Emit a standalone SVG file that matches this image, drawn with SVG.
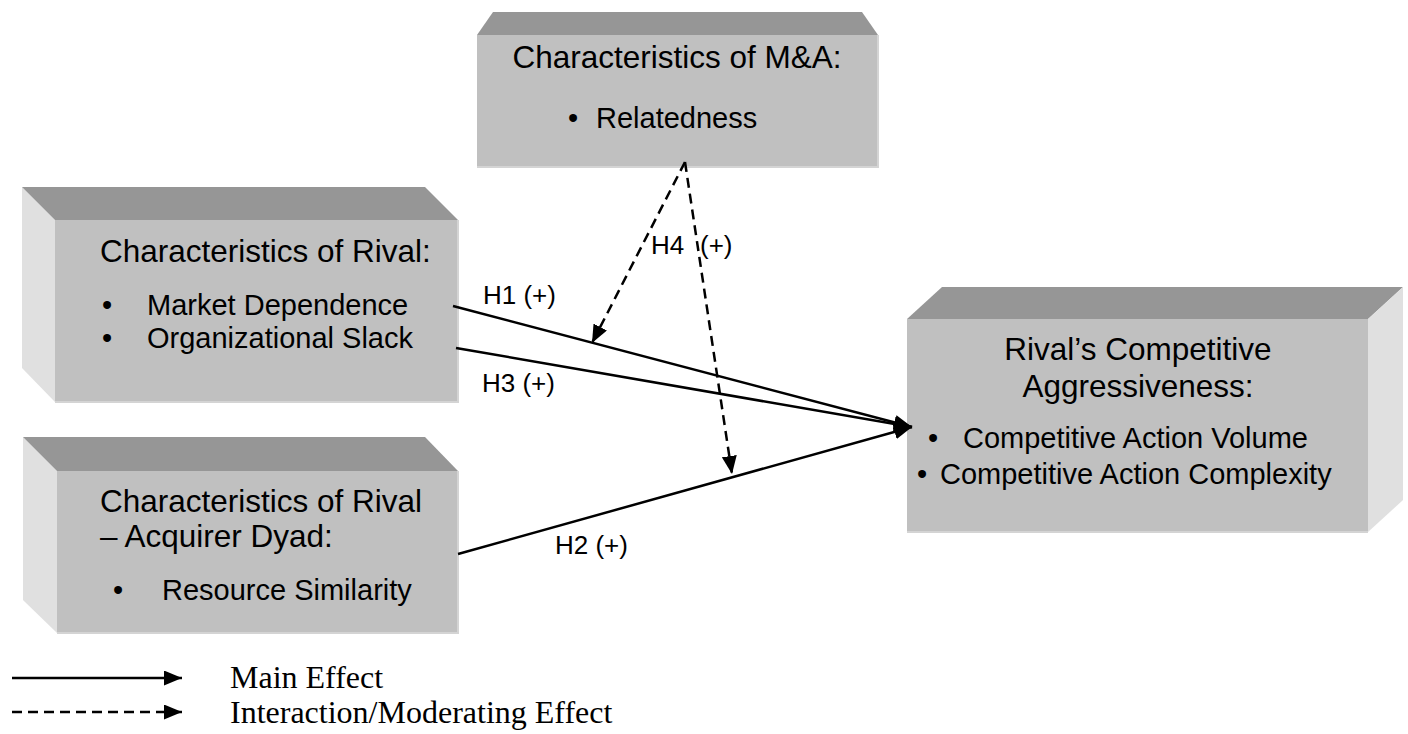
<svg xmlns="http://www.w3.org/2000/svg" width="1408" height="734" viewBox="0 0 1408 734">
<style>
.front{fill:#c0c0c0;}
.edge{fill:none;stroke:#d4d4d4;stroke-width:2;}
.top{fill:#969696;}
.side{fill:#e0e0e0;}
.title{font-family:"Liberation Sans",Arial,sans-serif;font-size:31.5px;fill:#000;}
.item{font-family:"Liberation Sans",Arial,sans-serif;font-size:29px;fill:#000;}
.lbl{font-family:"Liberation Sans",Arial,sans-serif;font-size:26px;fill:#000;}
.leg{font-family:"Liberation Serif","Times New Roman",serif;font-size:32px;fill:#000;}
.main{fill:none;stroke:#000;stroke-width:2.5;marker-end:url(#ah);}
.dash{fill:none;stroke:#000;stroke-width:2.5;stroke-dasharray:10 6;marker-end:url(#ah);}
</style>
<defs>
<marker id="ah" markerUnits="userSpaceOnUse" markerWidth="19" markerHeight="15" refX="18" refY="7.5" orient="auto">
<path d="M0,0 L18,7.5 L0,15 z" fill="#000"/>
</marker>
</defs>
<rect width="1408" height="734" fill="#fff"/>

<g id="node-ma">
<polygon class="top" points="477,35 493,12 862,12 878,35"/>
<rect class="front" x="477" y="35" width="401" height="132"/>
<polyline class="edge" points="477,167 878,167 878,35"/>
<text class="title" x="677" y="68" text-anchor="middle">Characteristics of M&amp;A:</text>
<text class="item" x="573" y="128" text-anchor="middle">•</text>
<text class="item" x="596" y="128">Relatedness</text>
</g>

<g id="node-rival">
<polygon class="side" points="22,187 55,220 55,402 22,368"/>
<polygon class="top" points="22,187 425,187 458,220 55,220"/>
<rect class="front" x="55" y="220" width="403" height="182"/>
<polyline class="edge" points="55,402 458,402 458,220"/>
<text class="title" x="100" y="262">Characteristics of Rival:</text>
<text class="item" x="107" y="315" text-anchor="middle">•</text>
<text class="item" x="147" y="315">Market Dependence</text>
<text class="item" x="107" y="348" text-anchor="middle">•</text>
<text class="item" x="147" y="348">Organizational Slack</text>
</g>

<g id="node-dyad">
<polygon class="side" points="23,437 57,471 57,633 23,600"/>
<polygon class="top" points="23,437 425,437 458,471 57,471"/>
<rect class="front" x="57" y="471" width="401" height="162"/>
<polyline class="edge" points="57,633 458,633 458,471"/>
<text class="title" x="100" y="512">Characteristics of Rival</text>
<text class="title" x="100" y="547">– Acquirer Dyad:</text>
<text class="item" x="118" y="600" text-anchor="middle">•</text>
<text class="item" x="162" y="600">Resource Similarity</text>
</g>

<g id="node-aggr">
<polygon class="top" points="907,319 942,287 1403,287 1368,319"/>
<polygon class="side" points="1368,319 1403,287 1403,500 1368,532"/>
<rect class="front" x="907" y="319" width="461" height="213"/>
<polyline class="edge" points="907,532 1368,532"/>
<text class="title" x="1138" y="360" text-anchor="middle">Rival’s Competitive</text>
<text class="title" x="1138" y="397" text-anchor="middle">Aggressiveness:</text>
<text class="item" x="933" y="448" text-anchor="middle">•</text>
<text class="item" x="963" y="448">Competitive Action Volume</text>
<text class="item" x="922" y="484" text-anchor="middle">•</text>
<text class="item" x="940" y="484">Competitive Action Complexity</text>
</g>

<g id="connectors">
<line class="main" x1="453" y1="306" x2="912" y2="427"/>
<line class="main" x1="456" y1="348" x2="912" y2="427"/>
<line class="main" x1="458" y1="554" x2="912" y2="427"/>
<line class="dash" x1="685" y1="162" x2="592" y2="343"/>
<line class="dash" x1="685" y1="162" x2="732" y2="474"/>
</g>

<g id="labels">
<text class="lbl" x="483" y="304">H1 (+)</text>
<text class="lbl" x="482" y="392">H3 (+)</text>
<text class="lbl" x="555" y="554">H2 (+)</text>
<text class="lbl" x="651" y="254">H4</text>
<text class="lbl" x="700" y="254">(+)</text>
</g>

<g id="legend">
<line class="main" x1="12" y1="678" x2="182" y2="678"/>
<line class="dash" x1="12" y1="712" x2="182" y2="712"/>
<text class="leg" x="230" y="688">Main Effect</text>
<text class="leg" x="230" y="723">Interaction/Moderating Effect</text>
</g>
</svg>
